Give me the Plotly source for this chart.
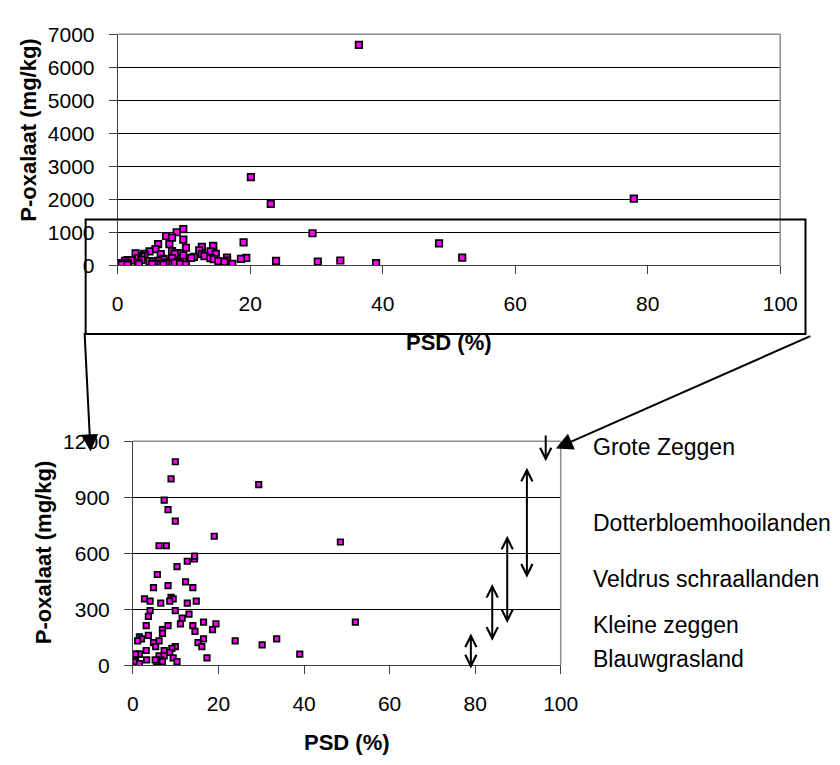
import plotly.graph_objects as go

# ---------------- data ----------------
psd = [9.9, 8.9, 7.3, 8.2, 9.9, 6.1, 7.8, 29.4, 19.0, 10.3, 5.7, 12.7, 14.4, 14.4, 12.3, 14.0,
       4.8, 8.2, 2.7, 4.0, 6.5, 8.9, 9.4, 8.6, 12.7, 14.8, 4.0, 9.9, 3.6, 13.1, 11.5, 3.1,
       8.2, 11.1, 14.0, 16.5, 19.4, 6.9, 14.5, 18.6, 6.9, 3.6, 1.5, 2.0, 1.1, 6.1, 4.8, 16.5,
       15.2, 16.1, 5.3, 9.9, 9.1, 3.1, 1.1, 1.5, 0.6, 8.6, 7.3, 6.1, 7.3, 9.4, 3.2, 6.5,
       5.5, 5.2, 6.9, 10.3, 0.6, 1.5, 17.3, 23.9, 30.2, 33.6, 39.0, 48.5, 52.0,
       20.1, 23.1, 36.4, 77.9]
p_ox = [1090, 998, 884, 834, 772, 640, 640, 967, 691, 528, 486, 557, 569, 585, 447, 416,
        416, 426, 355, 343, 333, 364, 355, 343, 333, 343, 293, 293, 262, 274, 252, 212,
        212, 222, 212, 231, 222, 191, 181, 191, 171, 160, 152, 141, 131, 131, 121, 141,
        121, 100, 100, 100, 90, 79, 60, 60, 60, 69, 79, 50, 50, 40, 29, 29,
        19, 29, 19, 19, 19, 9, 40, 131, 109, 141, 60, 660, 231,
        2670, 1860, 6680, 2020]

top_yticks = [0, 1000, 2000, 3000, 4000, 5000, 6000, 7000]
bot_yticks = [0, 300, 600, 900, 1200]
xticks = [0, 20, 40, 60, 80, 100]

# vegetation types with indicated P-oxalaat ranges (arrows in lower chart)
veg_labels = ["Grote Zeggen", "Dotterbloemhooilanden", "Veldrus schraallanden",
              "Kleine zeggen", "Blauwgrasland"]
veg_x = [96.5, 92.1, 87.5, 84.0, 79.0]
veg_lo = [1092, 469, 226, 131, -17]
veg_hi = [1239, 1066, 702, 443, 178]

# ---------------- layout helpers ----------------
W, H = 840, 765
FONT = "Liberation Sans, Arial, sans-serif"


def fx(px):
    return px / W


def fy(py):
    return 1 - py / H


AX = "#404040"

fig = go.Figure()
marker = dict(symbol="square", size=6.5, color="#FF00FF", line=dict(color="black", width=1.7))
fig.add_trace(go.Scatter(x=psd, y=p_ox, mode="markers", marker=marker,
                         xaxis="x", yaxis="y", showlegend=False))
fig.add_trace(go.Scatter(x=psd, y=p_ox, mode="markers", marker=dict(marker, size=5.5),
                         xaxis="x2", yaxis="y2", showlegend=False))

common_x = dict(range=[0, 100], tickvals=xticks, showgrid=False, zeroline=False,
                showline=True, linecolor=AX, linewidth=1, ticks="outside", ticklen=8,
                tickcolor=AX, tickfont=dict(family=FONT, size=21, color="black"),
                ticklabelstandoff=12, fixedrange=True)
common_y = dict(showgrid=True, gridcolor="black", gridwidth=1, zeroline=False,
                showline=True, linecolor=AX, linewidth=1, ticks="outside", ticklen=8,
                tickcolor=AX, tickfont=dict(family=FONT, size=21, color="black"),
                ticklabelstandoff=10, fixedrange=True)

top_x0, top_x1, top_y0, top_y1 = 115, 797, 261, 23
bot_x0, bot_x1, bot_y0, bot_y1 = 130.7, 571, 673.5, 442.5

fig.update_layout(
    width=W, height=H, margin=dict(l=0, r=0, t=0, b=0),
    paper_bgcolor="white", plot_bgcolor="white",
    xaxis=dict(common_x, domain=[fx(top_x0), fx(top_x1)], anchor="y"),
    yaxis=dict(common_y, domain=[fy(top_y0), fy(top_y1)], range=[0, 7000],
               tickvals=top_yticks, anchor="x"),
    xaxis2=dict(common_x, domain=[fx(bot_x0), fx(bot_x1)], anchor="y2"),
    yaxis2=dict(common_y, domain=[fy(bot_y0), fy(bot_y1)], range=[0, 1200],
                tickvals=bot_yticks, anchor="x2"),
)

shapes = []
# gray plot-area borders (top and right)
for (x0, x1, y0, y1) in [(top_x0, top_x1, top_y0, top_y1), (bot_x0, bot_x1, bot_y0, bot_y1)]:
    shapes.append(dict(type="line", xref="paper", yref="paper", x0=fx(x0), x1=fx(x1),
                       y0=fy(y1), y1=fy(y1), line=dict(color="#8c8c8c", width=1.5)))
    shapes.append(dict(type="line", xref="paper", yref="paper", x0=fx(x1), x1=fx(x1),
                       y0=fy(y0), y1=fy(y1), line=dict(color="#8c8c8c", width=1.5)))
# zoom rectangle on upper chart
shapes.append(dict(type="rect", xref="paper", yref="paper", x0=fx(82), x1=fx(823),
                   y0=fy(332), y1=fy(214), line=dict(color="black", width=2),
                   fillcolor="rgba(0,0,0,0)"))
fig.update_layout(shapes=shapes)

ann = []
title_font = dict(family=FONT, size=22, color="black", weight="bold")
ann.append(dict(text="P-oxalaat (mg/kg)", xref="paper", yref="paper", x=fx(23), y=fy(122),
                textangle=-90, showarrow=False, font=title_font, xanchor="center", yanchor="middle"))
ann.append(dict(text="PSD (%)", xref="paper", yref="paper", x=fx((top_x0 + top_x1) / 2), y=fy(341),
                showarrow=False, font=title_font, xanchor="center", yanchor="middle"))
ann.append(dict(text="P-oxalaat (mg/kg)", xref="paper", yref="paper", x=fx(38), y=fy(557),
                textangle=-90, showarrow=False, font=title_font, xanchor="center", yanchor="middle"))
ann.append(dict(text="PSD (%)", xref="paper", yref="paper", x=fx((bot_x0 + bot_x1) / 2), y=fy(753),
                showarrow=False, font=title_font, xanchor="center", yanchor="middle"))

# big zoom arrows from the rectangle to the lower chart
ann.append(dict(text="", xref="paper", yref="paper", x=fx(87), y=fy(453), ax=-6, ay=-120,
                showarrow=True, arrowhead=2, arrowsize=1.7, arrowwidth=2, arrowcolor="black"))
ann.append(dict(text="", xref="paper", yref="paper", x=fx(566), y=fy(450), ax=256, ay=-113,
                showarrow=True, arrowhead=2, arrowsize=1.7, arrowwidth=2, arrowcolor="black"))

# vegetation range arrows and labels
label_y = [448, 527, 585, 632, 667]
for i, lab in enumerate(veg_labels):
    if i == 0:
        ann.append(dict(text="", xref="x2", yref="y2", axref="x2", ayref="y2",
                        x=veg_x[i], y=veg_lo[i], ax=veg_x[i], ay=veg_hi[i],
                        showarrow=True, arrowhead=5, arrowsize=1.1, arrowwidth=2,
                        arrowcolor="black"))
    else:
        ann.append(dict(text="", xref="x2", yref="y2", axref="x2", ayref="y2",
                        x=veg_x[i], y=veg_lo[i], ax=veg_x[i], ay=veg_hi[i],
                        showarrow=True, arrowside="end+start", arrowhead=5, startarrowhead=5,
                        arrowsize=1.1, startarrowsize=1.1, arrowwidth=2, arrowcolor="black"))
    ann.append(dict(text=lab, xref="paper", yref="paper", x=fx(602), y=fy(label_y[i]),
                    xanchor="left", yanchor="middle", showarrow=False,
                    font=dict(family=FONT, size=23, color="black")))

fig.update_layout(annotations=ann)
fig.write_html("out.html")
